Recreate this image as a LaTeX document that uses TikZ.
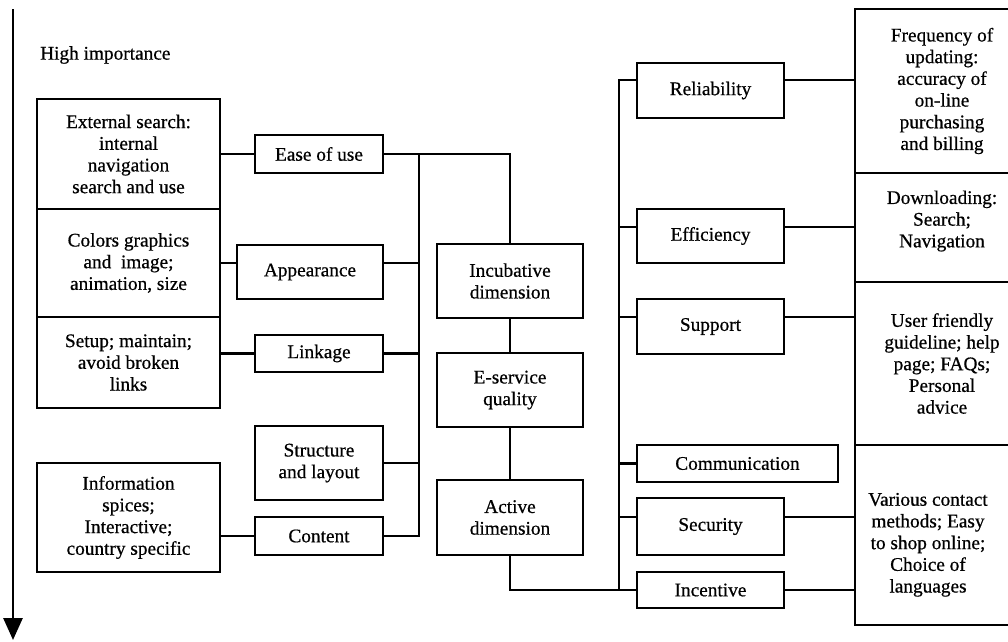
\documentclass[tikz,border=0pt]{standalone}
\usepackage{fontspec}
\setmainfont[FakeBold=0.6]{Liberation Serif}
\usetikzlibrary{arrows.meta}
\begin{document}
\begin{tikzpicture}[x=1pt,y=-1pt,
  every node/.style={font=\fontsize{19.3}{21.7}\selectfont},
  box/.style={draw,line width=2.8pt,rectangle,inner sep=0pt,outer sep=0pt,align=center},
  conn/.style={line width=2.8pt},
  importance/.style={line width=2.8pt,-{Triangle[length=22pt,width=19pt]}}
]
\useasboundingbox (0,0) rectangle (1008,641);
\clip (0,0) rectangle (1008,641);

% importance arrow
\coordinate (atop) at (13,9);
\coordinate (abot) at (13,640);
\draw[importance] (atop) -- (abot);
\node[anchor=west,inner sep=0pt] (hi) at (40,55) {High importance};

% left column
\node[box,minimum width=183pt,minimum height=110pt] (L1) at (128.5,154) {External search:\\internal\\navigation\\search and use};
\node[box,minimum width=183pt,minimum height=108pt] (L2) at (128.5,263) {Colors graphics\\and\ \ image;\\animation, size};
\node[box,minimum width=183pt,minimum height=91pt] (L3) at (128.5,362.5) {Setup; maintain;\\avoid broken\\links};
\node[box,minimum width=183pt,minimum height=109pt] (L4) at (128.5,517.5) {Information\\spices;\\Interactive;\\country specific};

% mid-left column
\node[box,minimum width=128pt,minimum height=38pt] (ease) at (319,154) {Ease of use};
\node[box,minimum width=146pt,minimum height=54pt] (app) at (310,272) {Appearance};
\node[box,minimum width=128pt,minimum height=37pt] (link) at (319,353.5) {Linkage};
\node[box,minimum width=128pt,minimum height=74pt] (struct) at (319,463) {Structure\\and layout};
\node[box,minimum width=128pt,minimum height=38pt] (cont) at (319,536) {Content};

% centre column
\node[box,minimum width=146pt,minimum height=74pt] (inc) at (510,281) {Incubative\\dimension};
\node[box,minimum width=146pt,minimum height=74pt] (esq) at (510,390) {E-service\\quality};
\node[box,minimum width=146pt,minimum height=75pt] (act) at (510,517.5) {Active\\dimension};

% mid-right column
\node[box,minimum width=147pt,minimum height=55pt] (rel) at (710.5,90.5) {Reliability};
\node[box,minimum width=147pt,minimum height=54pt] (eff) at (710.5,236) {Efficiency};
\node[box,minimum width=147pt,minimum height=55pt] (sup) at (710.5,326.5) {Support};
\node[box,minimum width=201pt,minimum height=37pt] (comm) at (737.5,463.5) {Communication};
\node[box,minimum width=147pt,minimum height=57pt] (sec) at (710.5,526.5) {Security};
\node[box,minimum width=147pt,minimum height=36pt] (incen) at (710.5,590) {Incentive};

% right column
\node[box,minimum width=174pt,minimum height=164pt] (R1) at (942,91) {Frequency of\\updating:\\accuracy of\\on-line\\purchasing\\and billing};
\node[box,minimum width=174pt,minimum height=109pt] (R2) at (942,227.5) {\begin{tabular}{@{}c@{}}Downloading:\\Search;\\Navigation\end{tabular}\rule[-39.75pt]{0pt}{39.75pt}};
\node[box,minimum width=174pt,minimum height=163pt] (R3) at (942,363.5) {User friendly\\guideline; help\\page; FAQs;\\Personal\\advice};
\node[box,minimum width=174pt,minimum height=180pt] (R4) at (942,535) {\rule{0pt}{79pt}\begin{tabular}{@{}c@{}}Various contact\\methods; Easy\\to shop online;\\Choice of\\languages\end{tabular}\hspace*{28pt}};

% left connectors
\draw[conn] (L1.east |- ease.west) -- (ease.west);
\coordinate (appW) at ([yshift=9pt]app.west);
\draw[conn] (L2.east |- appW) -- (appW);
\draw[conn] (L3.east |- link.west) -- (link.west);
\draw[conn] (L4.east |- cont.west) -- (cont.west);

% left bus
\coordinate (busT) at (419,154);
\draw[conn] (ease.east) -| (inc.north);
\draw[conn] (busT) |- (cont.east);
\coordinate (appE) at ([yshift=9pt]app.east);
\draw[conn] (appE) -- (busT |- appE);
\draw[conn] (link.east) -- (busT |- link.east);
\draw[conn] (struct.east) -- (busT |- struct.east);

% centre
\draw[conn] (inc) -- (esq);
\draw[conn] (esq) -- (act);
\draw[conn] (act.south) |- (incen.west);

% right bus
\coordinate (relW) at ([yshift=10.5pt]rel.west);
\coordinate (rbus) at (619,80);
\draw[conn] (relW) -- (rbus) -- (rbus |- incen.west);
\coordinate (effW) at ([yshift=9pt]eff.west);
\draw[conn] (effW) -- (rbus |- effW);
\coordinate (supW) at ([yshift=9.5pt]sup.west);
\draw[conn] (supW) -- (rbus |- supW);
\draw[conn] (comm.west) -- (rbus |- comm.west);
\coordinate (secW) at ([yshift=9.5pt]sec.west);
\draw[conn] (secW) -- (rbus |- secW);

% right connectors
\coordinate (relE) at ([yshift=10.5pt]rel.east);
\draw[conn] (relE) -- (R1.west |- relE);
\coordinate (effE) at ([yshift=9pt]eff.east);
\draw[conn] (effE) -- (R2.west |- effE);
\coordinate (supE) at ([yshift=9.5pt]sup.east);
\draw[conn] (supE) -- (R3.west |- supE);
\coordinate (secE) at ([yshift=9.5pt]sec.east);
\draw[conn] (secE) -- (R4.west |- secE);
\draw[conn] (incen.east) -- (R4.west |- incen.east);
\end{tikzpicture}
\end{document}
